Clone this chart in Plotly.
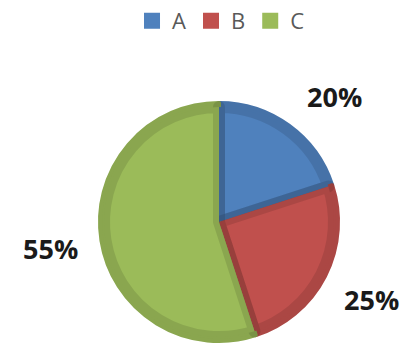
import math
import plotly.graph_objects as go

labels = ["A", "B", "C"]
values = [20, 25, 55]
colors = ["#4F81BD", "#C0504D", "#9BBB59"]

W, H = 417, 347
cx, cy, R = 219, 222, 121      # pie centre / outer radius in px
band = 6                        # bevel half width in px

def dom(radius):
    return dict(x=[(cx - radius) / W, (cx + radius) / W],
                y=[1 - (cy + radius) / H, 1 - (cy - radius) / H])

fig = go.Figure()
# base layer (gives the outer bevel ring and the legend)
fig.add_trace(go.Pie(
    labels=labels, values=values, sort=False, direction="clockwise", rotation=0,
    marker=dict(colors=colors, line=dict(color=colors, width=4)),
    textinfo="none", hoverinfo="label+percent", domain=dom(R - 2), showlegend=True,
))
# top layer with translucent dark stroke -> inner bevel
fig.add_trace(go.Pie(
    labels=labels, values=values, sort=False, direction="clockwise", rotation=0,
    marker=dict(colors=colors, line=dict(color="rgba(0,0,0,0.11)", width=2 * band)),
    textinfo="none", hoverinfo="label+percent", domain=dom(R - band), showlegend=False,
))

# percentage labels outside the slices
total = sum(values)
annotations = []
cum = 0
R_lab = 171
nudges = [(15, -13), (0, 0), (0, 0)]
for v, (dx, dy) in zip(values, nudges):
    theta = 2 * math.pi * (cum + v / 2) / total
    cum += v
    px = cx + R_lab * math.sin(theta)
    py = cy - R_lab * math.cos(theta)
    annotations.append(dict(
        x=px / W, y=1 - py / H, xref="paper", yref="paper",
        text=f"<b>{v / total:.0%}</b>", showarrow=False,
        xanchor="center", yanchor="middle", xshift=dx, yshift=dy,
        font=dict(family="Open Sans", size=27, color="#1a1a1a"),
    ))

fig.update_layout(
    width=W, height=H,
    margin=dict(l=0, r=0, t=0, b=0),
    paper_bgcolor="white", plot_bgcolor="white",
    showlegend=True,
    legend=dict(orientation="h", x=0.53, xanchor="center", y=1.0, yanchor="top",
                font=dict(family="Open Sans", size=22, color="#595959"),
                itemclick=False, itemdoubleclick=False, tracegroupgap=0),
    annotations=annotations,
)

fig.write_html("out.html")
